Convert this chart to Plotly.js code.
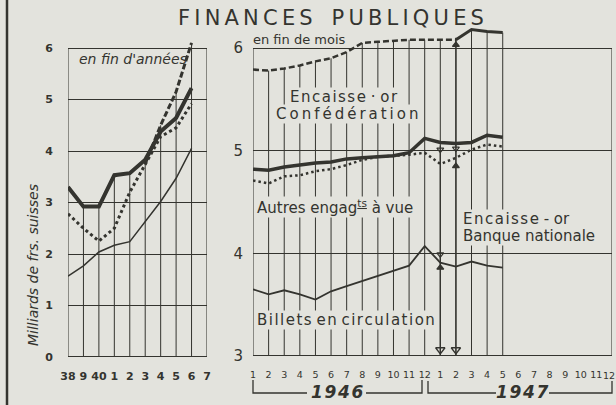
<!DOCTYPE html>
<html><head><meta charset="utf-8">
<script src="https://cdn.plot.ly/plotly-3.0.1.min.js"></script>
<style>html,body{margin:0;padding:0;background:#e3e3dd;}#chart{width:616px;height:405px;}</style>
</head><body><div id="chart"></div>
<script>
// ---------- DATA ----------
// Left panel: year-end values (milliards de frs. suisses)
const years = [1938,1939,1940,1941,1942,1943,1944,1945,1946];
const yearTicks = [1938,1939,1940,1941,1942,1943,1944,1945,1946,1947];
const yearLabels = ['38','9','40','1','2','3','4','5','6','7'];
const yThickA  = [3.30,2.92,2.92,3.53,3.57,3.83,4.38,4.64,5.22];
const yDottedA = [2.78,2.50,2.25,2.50,3.20,3.75,4.28,4.45,4.92];
const yDashedA = [null,null,null,null,null,3.75,4.50,5.15,6.10];
const yThinA   = [1.57,1.77,2.04,2.17,2.24,2.62,3.02,3.47,4.05];

// Right panel: month-end values, Jan 1946 (index 0) .. May 1947 (index 16)
const months = [0,1,2,3,4,5,6,7,8,9,10,11,12,13,14,15,16];
const monthTicks = [0,1,2,3,4,5,6,7,8,9,10,11,12,13,14,15,16,17,18,19,20,21,22,23];
const monthLabels = ['1','2','3','4','5','6','7','8','9','10','11','12','1','2','3','4','5','6','7','8','9','10','11','12'];
const mThick  = [4.82,4.81,4.84,4.86,4.88,4.89,4.92,4.93,4.94,4.95,4.98,5.12,5.08,5.07,5.08,5.15,5.13];
const mDotted = [4.71,4.68,4.75,4.76,4.80,4.82,4.86,4.91,4.94,4.95,4.96,4.98,4.87,4.93,5.01,5.06,5.04];
const mDashed = [5.79,5.78,5.80,5.83,5.87,5.90,5.96,6.05,6.06,6.07,6.08,6.08,6.08,6.08,6.18,6.16,6.15];
const mThin   = [3.65,3.60,3.64,3.60,3.55,3.63,3.68,3.73,3.78,3.83,3.88,4.07,3.91,3.87,3.92,3.88,3.86];
const dashedSolidFrom = 13; // from Feb 1947 the top line is drawn solid

// arrows (Jan / Feb 1947): month index, top value of the arrow shaft
const arrowMonth = [12, 13];
const arrowTop   = [5.05, 6.10];
// small triangle marks near Jan/Feb 1947
const markX   = [13, 12, 13, 13, 12, 12];
const markY   = [6.03, 5.01, 5.02, 4.85, 3.99, 3.86];
const markSym = ['triangle-up','triangle-down-open','triangle-down-open','triangle-up','triangle-down-open','triangle-up'];

// ---------- STYLE ----------
const W = 616, H = 405;
const px = v => v / W, py = v => 1 - v / H;
const ink = '#34342f', bg = '#e3e3dd';
const F = 'DejaVu Sans, sans-serif';
const spaced = (s, sep) => Array.from(s).join(sep);
const HS = '\u200A', TS = '\u2009';

// vertical grid segments (up to highest curve)
function vgrid(xs, cols, base) {
  const gx = [], gy = [];
  xs.forEach((x, i) => {
    const vals = cols.map(c => c[i]).filter(v => v != null);
    gx.push(x, x, null); gy.push(base, Math.max(...vals), null);
  });
  return {gx, gy};
}
const gL = vgrid(years.slice(1), [yThickA, yDottedA, yDashedA, yThinA].map(a => a.slice(1)), 0);
const gR = vgrid(months.slice(1), [mThick, mDotted, mDashed, mThin].map(a => a.slice(1)), 3);
gL.gx.push(1938,1938,null,1947,1947,null); gL.gy.push(0,6,null,0,6,null);
gR.gx.push(0,0,null,23,23,null); gR.gy.push(3,6,null,3,6,null);

const arX = [], arY = [];
arrowMonth.forEach((m, i) => { arX.push(m, m, null); arY.push(arrowTop[i], 3, null); });

// last month label is placed as an annotation (right-aligned at the page edge)
const lastLabel = monthLabels[monthLabels.length - 1];
const monthTickText = monthLabels.slice(0, -1).concat(['']);

const traces = [
  {x: gL.gx, y: gL.gy, xaxis:'x', yaxis:'y', mode:'lines', line:{color:ink, width:1}, hoverinfo:'skip'},
  {x: gR.gx, y: gR.gy, xaxis:'x2', yaxis:'y2', mode:'lines', line:{color:ink, width:1}, hoverinfo:'skip'},
  {x: arX, y: arY, xaxis:'x2', yaxis:'y2', mode:'lines', line:{color:ink, width:1.3}},
  {x: arrowMonth, y: arrowMonth.map(() => 3.06), xaxis:'x2', yaxis:'y2', mode:'markers',
   marker:{symbol:'triangle-down-open', size:8, color:ink, line:{color:ink, width:1.5}}},
  // left
  {x: years, y: yThinA, xaxis:'x', yaxis:'y', mode:'lines', line:{color:ink, width:1.5}},
  {x: years, y: yDottedA, xaxis:'x', yaxis:'y', mode:'lines', line:{color:ink, width:3, dash:'3px,3px'}},
  {x: years, y: yDashedA, xaxis:'x', yaxis:'y', mode:'lines', line:{color:ink, width:3, dash:'6px,2.5px'}},
  {x: years, y: yThickA, xaxis:'x', yaxis:'y', mode:'lines', line:{color:ink, width:4}},
  // right
  {x: months, y: mThin, xaxis:'x2', yaxis:'y2', mode:'lines', line:{color:ink, width:1.8}},
  {x: months, y: mDotted, xaxis:'x2', yaxis:'y2', mode:'lines', line:{color:ink, width:2.5, dash:'2.5px,3px'}},
  {x: months.slice(0, dashedSolidFrom + 1), y: mDashed.slice(0, dashedSolidFrom + 1), xaxis:'x2', yaxis:'y2', mode:'lines', line:{color:ink, width:2.5, dash:'6px,3px'}},
  {x: months.slice(dashedSolidFrom), y: mDashed.slice(dashedSolidFrom), xaxis:'x2', yaxis:'y2', mode:'lines', line:{color:ink, width:3}},
  {x: months, y: mThick, xaxis:'x2', yaxis:'y2', mode:'lines', line:{color:ink, width:3.5}},
  {x: markX, y: markY, xaxis:'x2', yaxis:'y2', mode:'markers', marker:{symbol: markSym, size:6, color:ink, line:{color:ink, width:1.2}}}
];

const axBase = {showgrid:false, zeroline:false, showline:false, fixedrange:true, ticks:'outside', tickcolor:'rgba(0,0,0,0)', tickangle:0};
const layout = {
  width: W, height: H, margin:{l:0,r:0,t:0,b:0},
  paper_bgcolor: bg, plot_bgcolor: 'rgba(0,0,0,0)', showlegend:false,
  font:{family:F, color:ink},
  xaxis: Object.assign({}, axBase, {domain:[px(68), px(207)], range:[1938,1947.001], tickvals:yearTicks, ticktext:yearLabels, ticklen:9, tickfont:{family:F, size:11, color:ink, weight:'bold'}, anchor:'y'}),
  yaxis: Object.assign({}, axBase, {domain:[py(357), py(32.55)], range:[0,6.3], tickvals:[0,1,2,3,4,5,6], showgrid:true, gridcolor:ink, gridwidth:1, ticklen:12, tickfont:{family:F, size:11, color:ink, weight:'bold'}, anchor:'x'}),
  xaxis2: Object.assign({}, axBase, {domain:[px(253), px(612)], range:[-0.001,23.002], tickvals:monthTicks, ticktext:monthTickText, ticklen:10, tickfont:{family:F, size:9.5, color:ink}, anchor:'y2'}),
  yaxis2: Object.assign({}, axBase, {domain:[py(356), py(17.2)], range:[3,6.3], tickvals:[3,4,5,6], showgrid:true, gridcolor:ink, gridwidth:1, ticklen:6, tickfont:{family:F, size:15, color:ink}, anchor:'x2'}),
  shapes: [
    {type:'line', xref:'x', yref:'y', x0:1938, x1:1947, y0:0, y1:0, line:{color:ink, width:2}},
    {type:'line', xref:'x2', yref:'y2', x0:0, x1:23, y0:3, y1:3, line:{color:ink, width:2}},
    {type:'line', xref:'paper', yref:'paper', x0:px(7), x1:px(7), y0:0, y1:1, line:{color:ink, width:2.5}},
    {type:'path', xref:'paper', yref:'paper', line:{color:ink, width:1.3},
     path:`M${px(253)},${py(380)} L${px(253)},${py(393)} L${px(307)},${py(393)} M${px(366)},${py(393)} L${px(422)},${py(393)} L${px(422)},${py(380)}`},
    {type:'path', xref:'paper', yref:'paper', line:{color:ink, width:1.3},
     path:`M${px(428)},${py(381)} L${px(428)},${py(393)} L${px(496)},${py(393)} M${px(549)},${py(393)} L${px(612)},${py(393)} L${px(612)},${py(381)}`}
  ],
  annotations: [
    {xref:'paper', yref:'paper', x:px(331), y:py(18), xanchor:'center', yanchor:'middle', showarrow:false,
     text: spaced('FINANCES', TS) + '\u2002' + TS + TS + spaced('PUBLIQUES', TS), font:{family:F, size:21, color:ink}},
    {xref:'paper', yref:'paper', x:px(77), y:py(59), xanchor:'left', yanchor:'middle', showarrow:false,
     text:"en fin d'années", font:{family:F, size:14, color:ink, style:'italic'}},
    {xref:'paper', yref:'paper', x:px(251), y:py(39), xanchor:'left', yanchor:'middle', showarrow:false,
     text:'en fin de mois', font:{family:F, size:13, color:ink}},
    {xref:'paper', yref:'paper', x:px(344), y:py(96.5), xanchor:'center', yanchor:'middle', showarrow:false, bgcolor:bg, borderpad:0,
     text: spaced('Encaisse', HS) + ' · ' + spaced('or', HS), font:{family:F, size:15, color:ink}},
    {xref:'paper', yref:'paper', x:px(347), y:py(114), xanchor:'center', yanchor:'middle', showarrow:false, bgcolor:bg, borderpad:0,
     text: spaced('Confédération', TS), font:{family:F, size:15, color:ink}},
    {xref:'paper', yref:'paper', x:px(256), y:py(207), xanchor:'left', yanchor:'middle', showarrow:false, bgcolor:bg, borderpad:0,
     text:'Autres engag<sup><u>ts</u></sup> à vue', font:{family:F, size:15, color:ink}},
    {xref:'paper', yref:'paper', x:px(462), y:py(218.5), xanchor:'left', yanchor:'middle', showarrow:false, bgcolor:bg, borderpad:0,
     text: spaced('Encaisse', HS) + ' - or', font:{family:F, size:15, color:ink}},
    {xref:'paper', yref:'paper', x:px(462), y:py(236), xanchor:'left', yanchor:'middle', showarrow:false, bgcolor:bg, borderpad:0,
     text:'Banque nationale', font:{family:F, size:15, color:ink}},
    {xref:'paper', yref:'paper', x:px(256), y:py(320), xanchor:'left', yanchor:'middle', showarrow:false, bgcolor:bg, borderpad:0,
     text: spaced('Billets', HS) + ' ' + spaced('en', HS) + ' ' + spaced('circulation', HS), font:{family:F, size:15, color:ink}},
    {xref:'paper', yref:'paper', x:px(33), y:py(265), xanchor:'center', yanchor:'middle', showarrow:false, textangle:-90,
     text:'Milliards de frs. suisses', font:{family:F, size:14, color:ink, style:'italic'}},
    {xref:'paper', yref:'paper', x:px(337), y:py(392), xanchor:'center', yanchor:'middle', showarrow:false,
     text: spaced('1946', HS), font:{family:F, size:17, color:ink, style:'italic', weight:'bold'}},
    {xref:'paper', yref:'paper', x:px(522), y:py(392), xanchor:'center', yanchor:'middle', showarrow:false,
     text: spaced('1947', HS), font:{family:F, size:17, color:ink, style:'italic', weight:'bold'}},
    {xref:'paper', yref:'paper', x:px(616), y:py(375), xanchor:'right', yanchor:'middle', showarrow:false, borderpad:0,
     text: lastLabel, font:{family:F, size:9.5, color:ink}}
  ]
};

Plotly.newPlot('chart', traces, layout, {staticPlot:true, displayModeBar:false});
</script>
</body></html>
